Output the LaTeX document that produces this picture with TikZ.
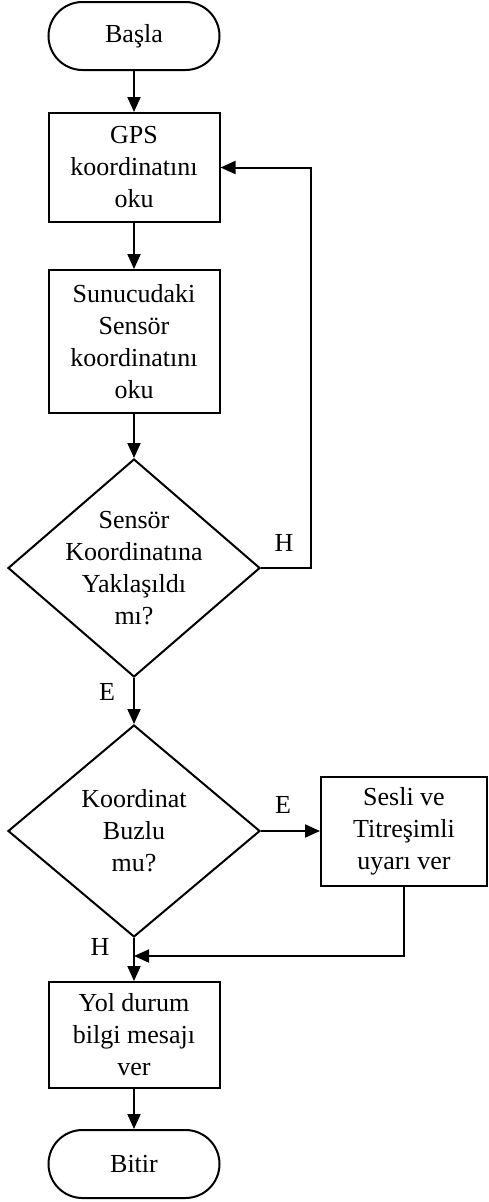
\documentclass[tikz,border=0pt]{standalone}
\usepackage{fontspec}
\setmainfont{Liberation Serif}
\usetikzlibrary{shapes.geometric,arrows.meta}
\begin{document}
\begin{tikzpicture}[x=1pt,y=1pt,
  font=\fontsize{26}{32}\selectfont,
  line width=2pt,
  terminal/.style={draw, rectangle, rounded corners=34pt, minimum width=171pt, minimum height=68pt, inner sep=0pt},
  process/.style={draw, rectangle, minimum width=171pt, align=center, inner sep=0pt},
  decision/.style={draw, diamond, inner sep=0pt, minimum width=252pt},
  flow/.style={-{Triangle[length=15pt,width=13pt]}},
  tag/.style={inner sep=0pt}]
\useasboundingbox (0,0) rectangle (488,-1202);

% main column
\node[terminal] (start) at (134,-36) {Başla};
\node[process, minimum height=109pt] (gps) at (134,-167.5) {GPS\\koordinatını\\oku};
\node[process, minimum height=143pt] (srv) at (134,-341.5) {Sunucudaki\\Sensör\\koordinatını\\oku};
\node[decision, minimum height=218pt,
  label={[align=center]center:Sensör\\Koordinatına\\Yaklaşıldı\\mı?}] (near) at (134,-568) {};
\node[decision, minimum height=212pt,
  label={[align=center]center:Koordinat\\Buzlu\\mu?}] (ice) at (134,-831) {};
\node[process, minimum width=166pt, minimum height=109pt] (warn) at (404,-831) {Sesli ve\\Titreşimli\\uyarı ver};
\node[process, minimum height=106pt] (msg) at (134,-1035) {Yol durum\\bilgi mesajı\\ver};
\node[terminal] (stop) at (134,-1164) {Bitir};

% bend points
\coordinate (loopR) at (311,-568);
\coordinate (join) at (134,-956);

% connectors
\draw[flow] (start) -- (gps);
\draw[flow] (gps) -- (srv);
\draw[flow] (srv) -- (near.north);
\draw[flow] (near.south) -- (ice.north);
\draw[flow] (near.east) -- (loopR) |- (gps.east);
\draw[flow] (ice.east) -- (warn.west);
\draw[flow] (ice.south) -- (msg.north);
\draw[flow] (warn.south) |- (join);
\draw[flow] (msg) -- (stop);

% branch labels
\node[tag] (lblH1) at (284,-543) {H};
\node[tag] (lblE1) at (107,-692) {E};
\node[tag] (lblE2) at (283,-805) {E};
\node[tag] (lblH2) at (100,-947) {H};
\end{tikzpicture}
\end{document}
